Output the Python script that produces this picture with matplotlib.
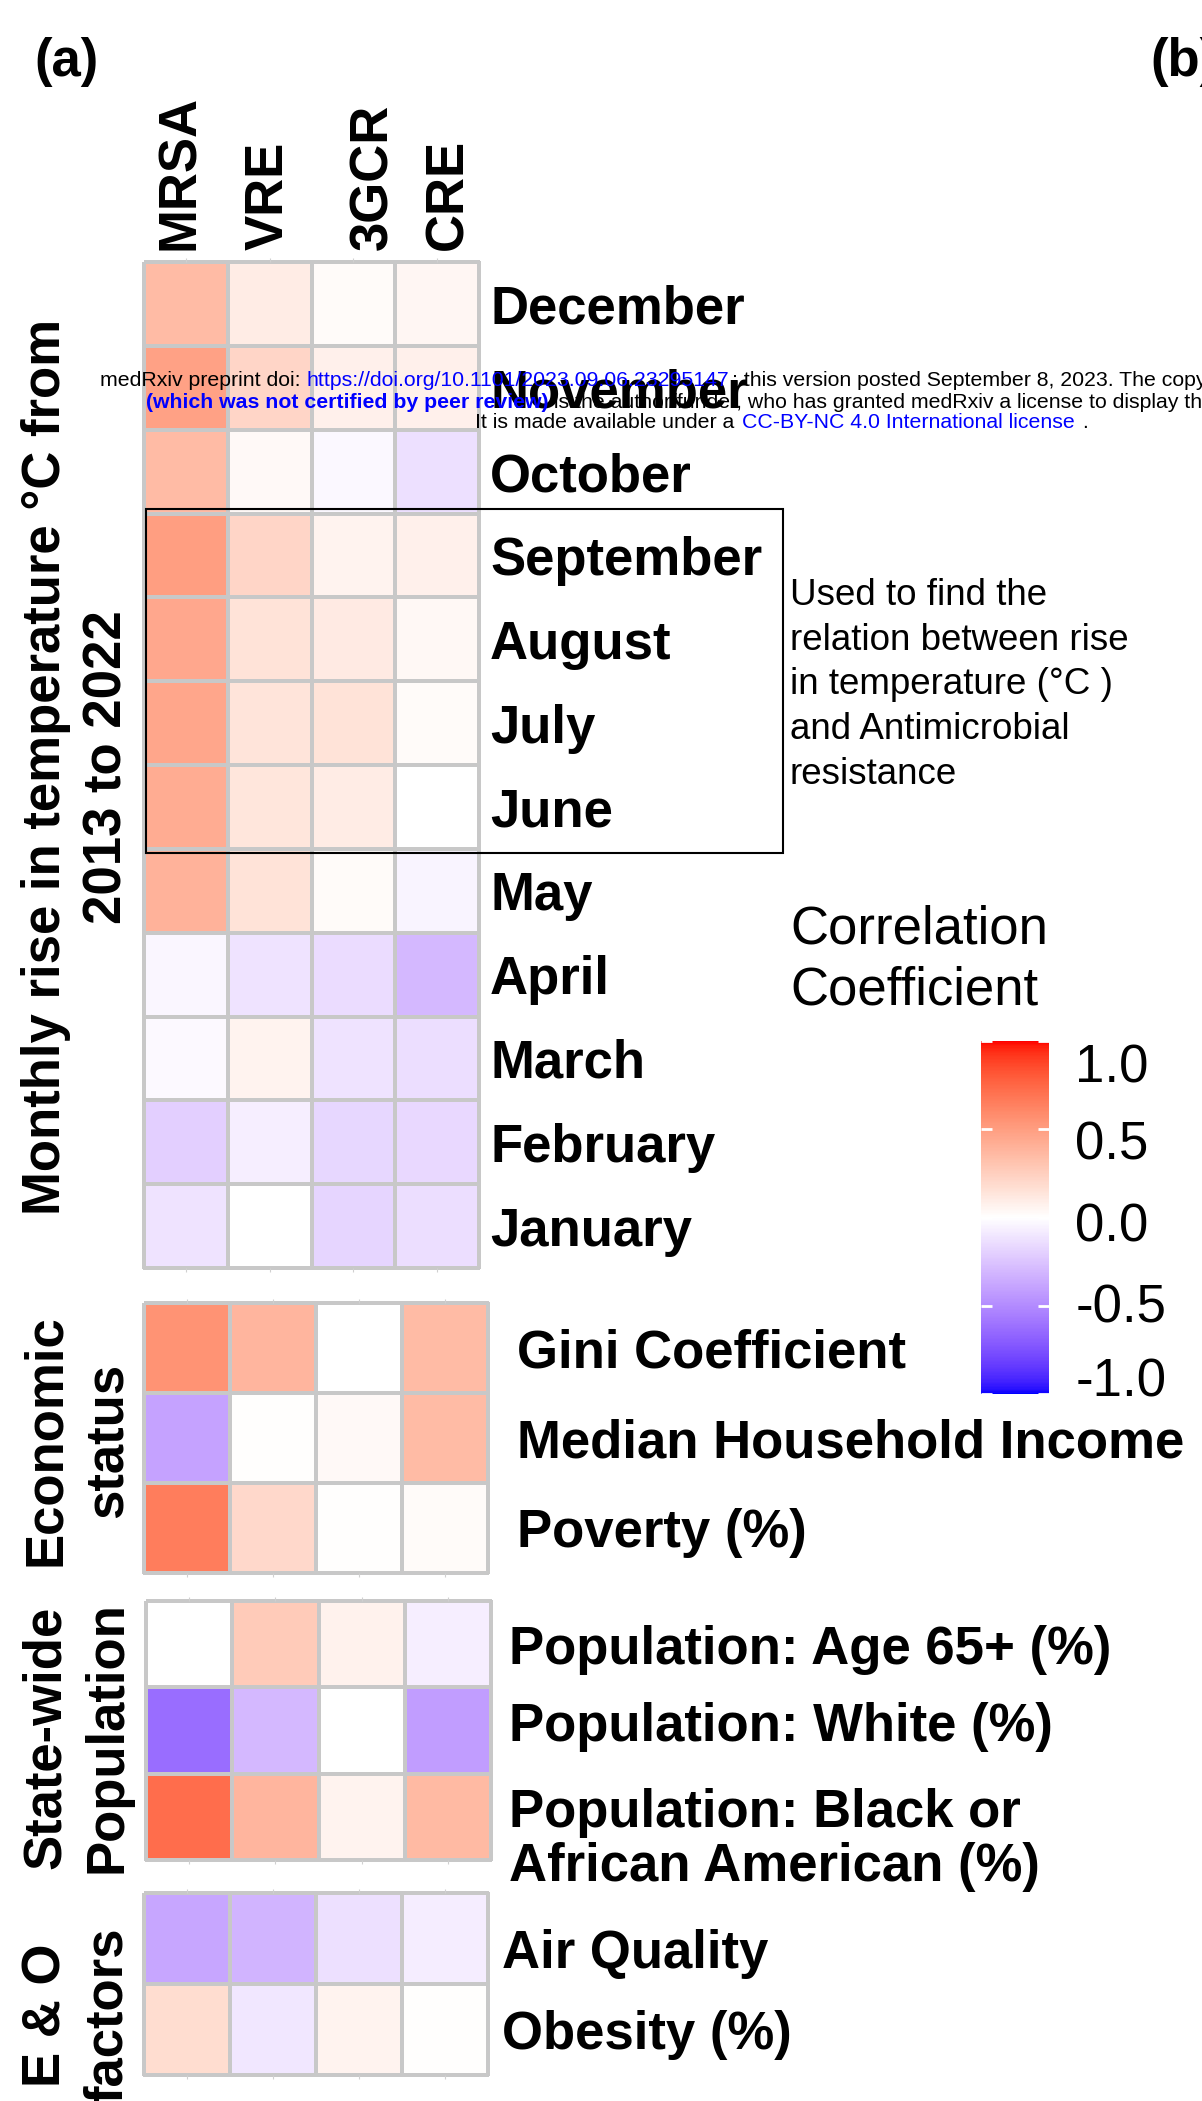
import matplotlib
matplotlib.use("Agg")
import matplotlib.pyplot as plt
import numpy as np
from matplotlib.colors import ListedColormap
from matplotlib.patches import Rectangle
from matplotlib.transforms import ScaledTranslation

plt.rcParams["font.family"] = ["Liberation Sans", "DejaVu Sans"]

# figure size in pixels (dpi 100)
W, H = 1202, 2101

# organisms (columns)
organisms = ["MRSA", "VRE", "3GCR", "CRE"]

# monthly temperature rise vs AMR correlations (rows top to bottom)
months = ["December", "November", "October", "September", "August", "July",
          "June", "May", "April", "March", "February", "January"]
month_corr = [
    [0.35, 0.10, 0.02, 0.05],
    [0.48, 0.22, 0.08, 0.08],
    [0.35, 0.03, -0.03, -0.13],
    [0.50, 0.22, 0.06, 0.08],
    [0.45, 0.15, 0.11, 0.04],
    [0.46, 0.14, 0.15, 0.02],
    [0.43, 0.13, 0.10, 0.00],
    [0.40, 0.15, 0.02, -0.05],
    [-0.04, -0.12, -0.15, -0.30],
    [-0.02, 0.06, -0.12, -0.14],
    [-0.20, -0.07, -0.17, -0.16],
    [-0.12, 0.00, -0.18, -0.14],
]

# economic status
econ_labels = ["Gini Coefficient", "Median Household Income", "Poverty (%)"]
econ_corr = [
    [0.55, 0.38, 0.00, 0.35],
    [-0.40, 0.01, 0.03, 0.35],
    [0.65, 0.20, 0.01, 0.02],
]

# state-wide population
pop_labels = ["Population: Age 65+ (%)", "Population: White (%)",
              "Population: Black or\nAfrican American (%)"]
pop_corr = [
    [0.00, 0.27, 0.07, -0.07],
    [-0.63, -0.30, 0.00, -0.42],
    [0.72, 0.38, 0.06, 0.36],
]

# environmental & other factors
eo_labels = ["Air Quality", "Obesity (%)"]
eo_corr = [
    [-0.38, -0.32, -0.13, -0.08],
    [0.18, -0.10, 0.06, 0.01],
]

cbar_ticks = [-1.0, -0.5, 0.0, 0.5, 1.0]


# blue-white-red gradient interpolated in CIELAB (like ggplot's gradient2)
WHITE_XYZ = np.array([0.95047, 1.0, 1.08883])


def srgb_to_lab(rgb):
    c = np.asarray(rgb, float)
    lin = np.where(c > 0.04045, ((c + 0.055) / 1.055) ** 2.4, c / 12.92)
    m = np.array([[0.4124, 0.3576, 0.1805],
                  [0.2126, 0.7152, 0.0722],
                  [0.0193, 0.1192, 0.9505]])
    xyz = m @ lin / WHITE_XYZ
    f = np.where(xyz > 0.008856, np.cbrt(xyz), 7.787 * xyz + 16 / 116)
    return np.array([116 * f[1] - 16, 500 * (f[0] - f[1]), 200 * (f[1] - f[2])])


def lab_to_srgb(lab):
    L, a, b = lab
    fy = (L + 16) / 116
    f = np.array([fy + a / 500, fy, fy - b / 200])
    xyz = np.where(f ** 3 > 0.008856, f ** 3, (f - 16 / 116) / 7.787) * WHITE_XYZ
    minv = np.array([[3.2406, -1.5372, -0.4986],
                     [-0.9689, 1.8758, 0.0415],
                     [0.0557, -0.2040, 1.0570]])
    lin = np.clip(minv @ xyz, 0, 1)
    c = np.where(lin > 0.0031308, 1.055 * lin ** (1 / 2.4) - 0.055, 12.92 * lin)
    return np.clip(c, 0, 1)


lab_white = srgb_to_lab([1, 1, 1])
lab_red = srgb_to_lab([1, 0, 0])
lab_blue = srgb_to_lab([0, 0, 1])
colors = []
for t in np.linspace(-1, 1, 257):
    end = lab_blue if t < 0 else lab_red
    colors.append(lab_to_srgb(lab_white + abs(t) * (end - lab_white)))
cmap = ListedColormap(colors)

fig = plt.figure(figsize=(W / 100, H / 100), dpi=100)


def px_axes(x0, y0, x1, y1):
    return fig.add_axes([x0 / W, 1 - y1 / H, (x1 - x0) / W, (y1 - y0) / H])


def nudge(text, dx, dy):
    # shift a text by screen pixels (dy positive = down)
    text.set_transform(text.get_transform() +
                       ScaledTranslation(dx / 100, -dy / 100, fig.dpi_scale_trans))


def heat(ax, values, labels, pad):
    data = np.array(values)
    mesh = ax.pcolormesh(data, cmap=cmap, vmin=-1, vmax=1,
                         edgecolors="#c8c8c8", linewidth=1.5)
    mesh.set_clip_on(False)
    ax.set_xlim(0, data.shape[1])
    ax.set_ylim(data.shape[0], 0)
    ax.set_yticks(np.arange(len(labels)) + 0.5, labels=labels,
                  fontsize=38, fontweight="bold")
    ax.yaxis.tick_right()
    ax.tick_params(axis="y", length=0, pad=pad)
    ax.set_xticks(np.arange(data.shape[1]) + 0.5)
    ax.tick_params(axis="x", top=True, bottom=True, labelbottom=False,
                   length=3, color="#d0d0d0")
    for s in ax.spines.values():
        s.set_visible(False)
    return mesh


# monthly panel
ax_m = px_axes(144, 262, 479, 1268)
mesh = heat(ax_m, month_corr, months, pad=8)
ax_m.set_xticks(np.arange(4) + 0.5, labels=organisms, fontsize=38,
                fontweight="bold", rotation=90)
ax_m.tick_params(axis="x", labeltop=True, pad=6)
for lab, dx in zip(ax_m.get_xticklabels(), [-6, -1, 20, 11]):
    nudge(lab, dx, 0)

# lower panels
ax_e = px_axes(144, 1303, 488, 1573)
heat(ax_e, econ_corr, econ_labels, pad=21)
ax_p = px_axes(146, 1601, 491, 1860)
heat(ax_p, pop_corr, pop_labels, pad=13)
plabs = ax_p.get_yticklabels()
plabs[2].set_linespacing(1.1)
nudge(plabs[1], 0, -9)
nudge(plabs[2], 0, 16)
ax_o = px_axes(144, 1893, 488, 2075)
heat(ax_o, eo_corr, eo_labels, pad=10)
olabs = ax_o.get_yticklabels()
nudge(olabs[0], 0, 10)

# left group titles
fig.text(77 / W, 1 - 767 / H, "Monthly rise in temperature °C from\n2013 to 2022",
         rotation=90, ha="center", va="center", fontsize=38, fontweight="bold",
         multialignment="center", linespacing=1.3)
fig.text(77 / W, 1 - 1440 / H, "Economic\nstatus", rotation=90, ha="center",
         va="center", fontsize=38, fontweight="bold", linespacing=1.3)
fig.text(77 / W, 1 - 1737 / H, "State-wide\nPopulation", rotation=90, ha="center",
         va="center", fontsize=38, fontweight="bold", linespacing=1.3)
fig.text(77 / W, 1 - 2015 / H, "E & O\nfactors", rotation=90, ha="center",
         va="center", fontsize=38, fontweight="bold", linespacing=1.3)

# panel letters
fig.text(34 / W, 1 - 62 / H, "(a)", fontsize=38, fontweight="bold", va="center")
fig.text(1150 / W, 1 - 62 / H, "(b)", fontsize=38, fontweight="bold", va="center")

# box around summer months + note
fig.add_artist(Rectangle((146 / W, 1 - 853 / H), (783 - 146) / W, (853 - 509) / H,
                         transform=fig.transFigure, fill=False, ec="black", lw=1.5))
fig.text(790 / W, 1 - 578 / H,
         "Used to find the\nrelation between rise\nin temperature (°C )\n"
         "and Antimicrobial\nresistance",
         fontsize=26.5, va="top", ha="left", linespacing=1.36)

# colorbar
fig.text(790 / W, 1 - 960 / H, "Correlation\nCoefficient", fontsize=38,
         va="center", ha="left", linespacing=1.29)
cax = px_axes(981, 1041, 1049, 1394)
cb = fig.colorbar(mesh, cax=cax, ticks=cbar_ticks)
cb.outline.set_visible(False)
cb.ax.set_yticklabels([f"{v:.1f}" for v in cbar_ticks])
cax.tick_params(axis="y", direction="in", length=8, width=2, color="white",
                left=True, labelsize=38, pad=19)
for lab, dy in zip(cax.get_yticklabels(), [-17, -3, 5, 11, 22]):
    nudge(lab, 0, dy)

# preprint watermark
wm = 15.3
fig.text(100 / W, 1 - 380 / H, "medRxiv preprint doi: ", fontsize=wm, va="center")
fig.text(307 / W, 1 - 380 / H, "https://doi.org/10.1101/2023.09.06.23295147",
         fontsize=wm, va="center", color="blue")
fig.text(732 / W, 1 - 380 / H,
         "; this version posted September 8, 2023. The copyright holder for this preprint",
         fontsize=wm, va="center")
fig.text(146 / W, 1 - 402 / H, "(which was not certified by peer review)",
         fontsize=wm, va="center", color="blue", fontweight="bold")
fig.text(548 / W, 1 - 402 / H,
         " is the author/funder, who has granted medRxiv a license to display the preprint in perpetuity.",
         fontsize=wm, va="center")
fig.text(475 / W, 1 - 423 / H, "It is made available under a ", fontsize=wm, va="center")
fig.text(742 / W, 1 - 423 / H, "CC-BY-NC 4.0 International license",
         fontsize=wm, va="center", color="blue")
fig.text(1077 / W, 1 - 423 / H, " .", fontsize=wm, va="center")

fig.savefig("out.png", dpi=100)
